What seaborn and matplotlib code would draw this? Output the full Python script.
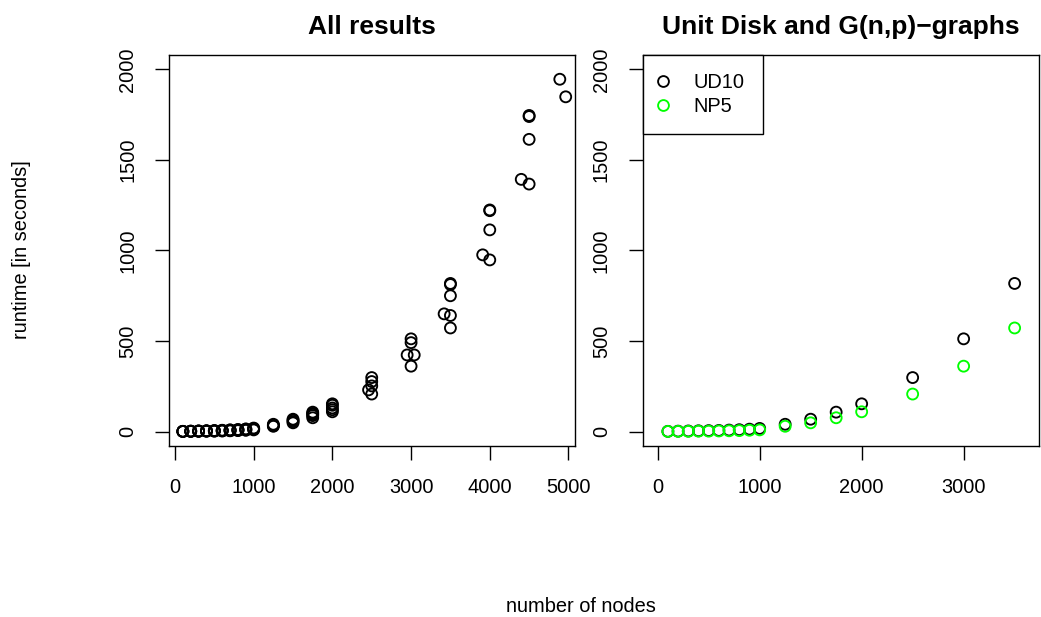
import matplotlib
matplotlib.use("Agg")
import matplotlib.pyplot as plt
import seaborn as sns
import pandas as pd
from matplotlib.lines import Line2D

# ---------------- data ----------------
nodes = [100, 200, 300, 400, 500, 600, 700, 800, 900, 1000,
         1250, 1500, 1750, 2000, 2500, 3000, 3500]
ud10 = [1, 2, 3, 4, 5, 6, 8, 10, 13, 17, 40, 68, 107, 153, 298, 512, 818]
np5 = [0.5, 1, 1, 2, 2, 3, 4, 5, 7, 9, 29, 48, 76, 109, 207, 361, 572]

# further results that appear only in the "All results" panel
other_n = [100, 200, 300, 400, 500, 600, 700, 800, 900, 1000,
           100, 200, 300, 400, 500, 600, 700, 800, 900, 1000,
           1250, 1250, 1500, 1500, 1750, 1750, 1750, 2000, 2000, 2000,
           2500, 2500, 2460, 3000, 2950, 3040,
           3500, 3500, 3500, 3420,
           4000, 4000, 4000, 4000, 3910,
           4500, 4500, 4500, 4500, 4400,
           4890, 4965]
other_t = [1, 2, 3, 4, 5, 7, 9, 11, 14, 19,
           0.5, 1, 2, 2, 3, 4, 5, 7, 9, 12,
           35, 32, 55, 62, 88, 95, 100, 120, 130, 145,
           276, 252, 230, 491, 423, 423,
           812, 750, 641, 650,
           1224, 1220, 1114, 948, 976,
           1746, 1740, 1614, 1367, 1393,
           1946, 1849]

left_xticks = [0, 1000, 2000, 3000, 4000, 5000]
right_xticks = [0, 1000, 2000, 3000]
yticks = [0, 500, 1000, 1500, 2000]
series_labels = ["UD10", "NP5"]
series_colors = ["black", "#00FF00"]

# ---------------- style ----------------
sns.set_theme(style="white")
plt.rcParams['font.family'] = ['Liberation Sans', 'DejaVu Sans']
plt.rcParams['axes.edgecolor'] = 'black'
plt.rcParams['axes.linewidth'] = 1.0
plt.rcParams['text.color'] = 'black'
plt.rcParams['axes.labelcolor'] = 'black'
plt.rcParams['axes.titlecolor'] = 'black'
plt.rcParams['xtick.color'] = 'black'
plt.rcParams['ytick.color'] = 'black'

W, H = 1041, 617
fig = plt.figure(figsize=(W / 100, H / 100), dpi=100)
fig.patch.set_facecolor('white')

top, bot = 55, 446
ax1 = fig.add_axes([169 / W, 1 - bot / H, (575 - 169) / W, (bot - top) / H])
ax2 = fig.add_axes([642.7 / W, 1 - bot / H, (1039.3 - 642.7) / W, (bot - top) / H])

all_df = pd.DataFrame({
    "n": nodes + nodes + other_n,
    "t": ud10 + np5 + other_t,
})

mk = dict(marker='o', s=62, facecolors='none', linewidth=1.35, legend=False)

sns.scatterplot(data=all_df, x="n", y="t", ax=ax1, edgecolor='black', **mk)

ud_df = pd.DataFrame({"n": nodes, "t": ud10})
np_df = pd.DataFrame({"n": nodes, "t": np5})
sns.scatterplot(data=ud_df, x="n", y="t", ax=ax2, edgecolor=series_colors[0], **mk)
sns.scatterplot(data=np_df, x="n", y="t", ax=ax2, edgecolor=series_colors[1], **mk)

ax1.set_xlim(-76, 5083)
ax2.set_xlim(-147, 3742)
for ax, xt in ((ax1, left_xticks), (ax2, right_xticks)):
    ax.set_ylim(-80, 2080)
    ax.set_xticks(xt)
    ax.set_yticks(yticks)
    ax.set_xlabel("")
    ax.set_ylabel("")
    ax.tick_params(axis='both', direction='out', length=10, width=1.0,
                   colors='black', labelcolor='black', labelsize=14.4,
                   bottom=True, left=True)
    ax.tick_params(axis='x', pad=13)
    ax.tick_params(axis='y', pad=13, labelrotation=90)
    for lab in ax.get_yticklabels():
        lab.set_va('center')
    for sp in ax.spines.values():
        sp.set_visible(True)
        sp.set_color('black')
        sp.set_linewidth(1.0)

ax1.set_title("All results", fontsize=19, fontweight='bold', pad=15, color='black')
ax2.set_title("Unit Disk and G(n,p)\u2212graphs", fontsize=19, fontweight='bold',
              pad=15, color='black')

handles = [Line2D([], [], marker='o', linestyle='none', markerfacecolor='none',
                  markeredgecolor=c, markersize=7.8, markeredgewidth=1.35)
           for c in series_colors]
leg = ax2.legend(handles, series_labels, loc='upper left', borderaxespad=0,
                 fontsize=14.4, frameon=True, fancybox=False, edgecolor='black',
                 framealpha=1, borderpad=0.9, handlelength=0.2,
                 handletextpad=1.45, labelspacing=0.25)
leg.get_frame().set_linewidth(1.0)
for t in leg.get_texts():
    t.set_color('black')

fig.text(22 / W, 1 - 250 / H, "runtime [in seconds]", rotation=90,
         ha='center', va='center', fontsize=14.4, color='black')
fig.text(581 / W, 1 - 607 / H, "number of nodes", ha='center', va='center',
         fontsize=14.4, color='black')

fig.savefig("out.png", dpi=100, facecolor='white')
